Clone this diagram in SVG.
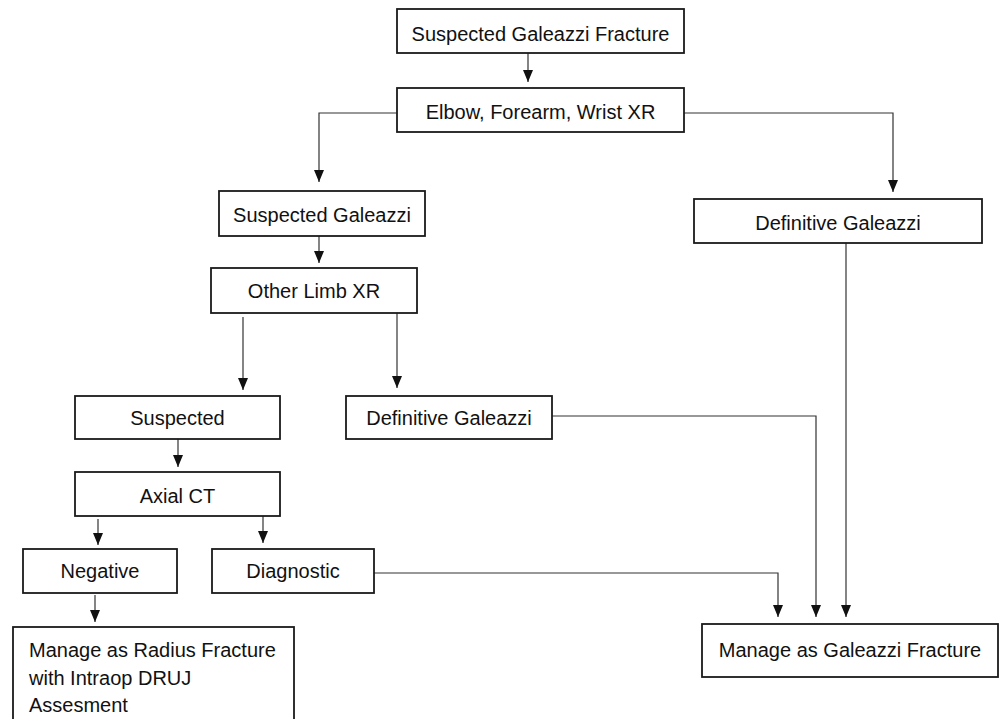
<svg xmlns="http://www.w3.org/2000/svg" width="1000" height="719" viewBox="0 0 1000 719">
<style>
.box{fill:#fff;stroke:#1a1a1a;stroke-width:1.8}
.t{font-family:"Liberation Sans",Arial,sans-serif;font-size:20px;fill:#111;text-anchor:middle}
.tl{font-family:"Liberation Sans",Arial,sans-serif;font-size:20px;fill:#111}
.c{fill:none;stroke:#333;stroke-width:1.2;marker-end:url(#ah)}
</style>
<defs>
<marker id="ah" viewBox="0 0 12 10" refX="12" refY="5" markerWidth="12" markerHeight="10" markerUnits="userSpaceOnUse" orient="auto">
<path d="M0,0 L12,5 L0,10 Z" fill="#111"/>
</marker>
</defs>
<rect width="1000" height="719" fill="#fff"/>
<g id="connectors">
<line class="c" x1="528" y1="53" x2="528" y2="82"/>
<polyline class="c" points="397,113 319,113 319,182"/>
<polyline class="c" points="684,113 893,113 893,192"/>
<line class="c" x1="319" y1="236" x2="319" y2="263"/>
<line class="c" x1="243" y1="317" x2="243" y2="390"/>
<line class="c" x1="397" y1="313" x2="397" y2="388"/>
<line class="c" x1="178" y1="439" x2="178" y2="467"/>
<line class="c" x1="98" y1="519" x2="98" y2="545"/>
<line class="c" x1="263" y1="516" x2="263" y2="543"/>
<line class="c" x1="95" y1="595" x2="95" y2="622"/>
<polyline class="c" points="374,573 778,573 778,617"/>
<polyline class="c" points="552,416 816,416 816,617"/>
<line class="c" x1="846" y1="243" x2="846" y2="617"/>
</g>
<g id="n1"><rect class="box" x="397" y="9" width="287" height="44"/><text class="t" x="540.5" y="41">Suspected Galeazzi Fracture</text></g>
<g id="n2"><rect class="box" x="397" y="88" width="287" height="44"/><text class="t" x="540.5" y="119">Elbow, Forearm, Wrist XR</text></g>
<g id="n3"><rect class="box" x="219" y="191" width="206" height="45"/><text class="t" x="322" y="222">Suspected Galeazzi</text></g>
<g id="n4"><rect class="box" x="694" y="199" width="288" height="44"/><text class="t" x="838" y="230">Definitive Galeazzi</text></g>
<g id="n5"><rect class="box" x="211" y="268" width="206" height="45"/><text class="t" x="314" y="298">Other Limb XR</text></g>
<g id="n6"><rect class="box" x="75" y="396" width="205" height="43"/><text class="t" x="177.5" y="425">Suspected</text></g>
<g id="n7"><rect class="box" x="346" y="396" width="206" height="43"/><text class="t" x="449" y="425">Definitive Galeazzi</text></g>
<g id="n8"><rect class="box" x="75" y="472" width="205" height="44"/><text class="t" x="177.5" y="503">Axial CT</text></g>
<g id="n9"><rect class="box" x="23" y="549" width="154" height="44"/><text class="t" x="100" y="578">Negative</text></g>
<g id="n10"><rect class="box" x="212" y="549" width="162" height="44"/><text class="t" x="293" y="578">Diagnostic</text></g>
<g id="n11"><rect class="box" x="13" y="627" width="281" height="100"/><text class="tl" x="29" y="657">Manage as Radius Fracture</text><text class="tl" x="29" y="685">with Intraop DRUJ</text><text class="tl" x="29" y="712">Assesment</text></g>
<g id="n12"><rect class="box" x="702" y="624" width="296" height="53"/><text class="t" x="850" y="657">Manage as Galeazzi Fracture</text></g>
</svg>
